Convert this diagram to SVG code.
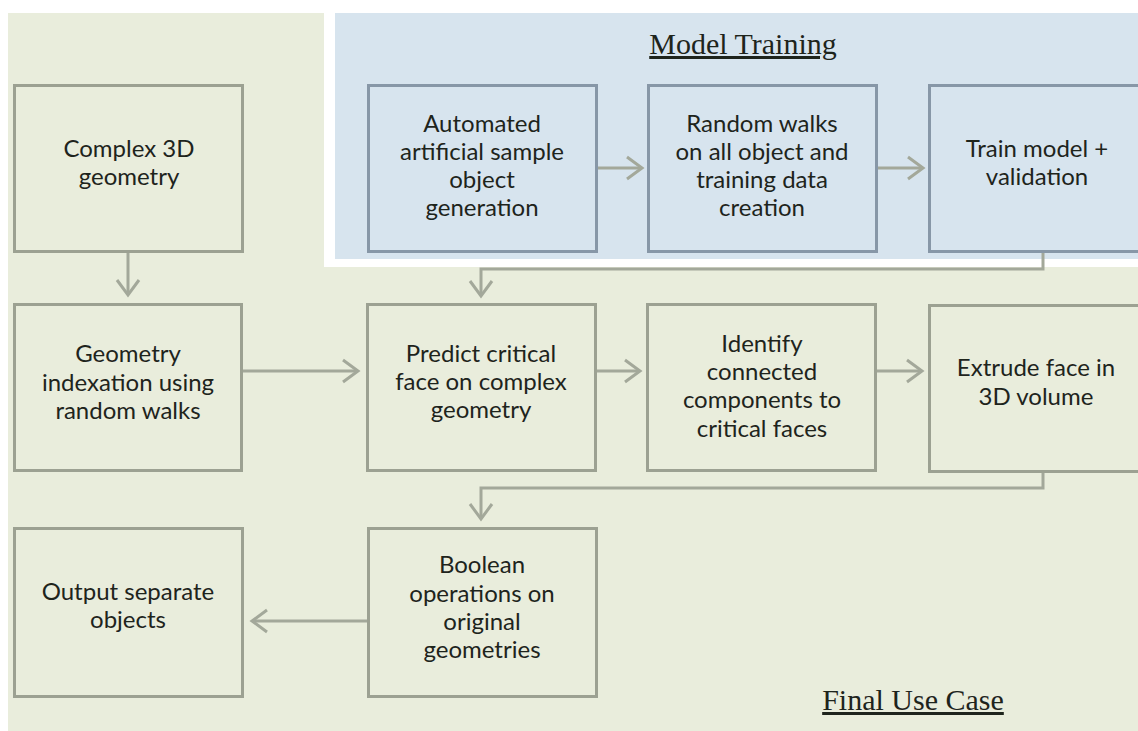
<svg xmlns="http://www.w3.org/2000/svg" width="1138" height="731" viewBox="0 0 1138 731">
<defs>
<style>
.bg-green{fill:#e9eddc}
.bg-blue{fill:#d7e4ee}
.box{fill:none;stroke:#9ca192;stroke-width:3}
.bbox{fill:none;stroke:#8797a7;stroke-width:3}
.lbl{font-family:Lato,"Liberation Sans",sans-serif;font-size:24px;fill:#1e241c;text-anchor:middle}
.ttl{font-family:"Liberation Serif",serif;font-size:30px;fill:#1e241c;text-anchor:middle;text-decoration:underline}
.conn{fill:none;stroke:#a3a89a;stroke-width:3}
</style>
<marker id="arr" markerUnits="userSpaceOnUse" markerWidth="40" markerHeight="40" viewBox="-20 -20 40 40" refX="0" refY="0" orient="auto" overflow="visible">
<path d="M -15 -11 L 0 0 L -15 11" fill="none" stroke="#a3a89a" stroke-width="3"/>
</marker>
</defs>
<rect x="0" y="0" width="1138" height="731" fill="#ffffff"/>
<rect class="bg-green" x="8" y="13" width="1130" height="718"/>
<rect x="324" y="0" width="814" height="267" fill="#ffffff"/>
<rect class="bg-blue" x="335" y="13" width="803" height="246"/>
<text class="ttl" x="743" y="54">Model Training</text>
<text class="ttl" x="913" y="710">Final Use Case</text>

<g id="connectors">
<path class="conn" d="M128 253 V295" marker-end="url(#arr)"/>
<path class="conn" d="M242 371 H358" marker-end="url(#arr)"/>
<path class="conn" d="M597 168 H642" marker-end="url(#arr)"/>
<path class="conn" d="M877 168 H923" marker-end="url(#arr)"/>
<path class="conn" d="M1043 253 V269 H481 V296" marker-end="url(#arr)"/>
<path class="conn" d="M596 371 H640" marker-end="url(#arr)"/>
<path class="conn" d="M876 371 H922" marker-end="url(#arr)"/>
<path class="conn" d="M1043 472 V488 H481 V519" marker-end="url(#arr)"/>
<path class="conn" d="M368 621 H252" marker-end="url(#arr)"/>
</g>

<g id="n-complex">
<rect class="box" x="14.5" y="85.5" width="228" height="166"/>
<text class="lbl" x="129"><tspan x="129" y="157">Complex 3D</tspan><tspan x="129" y="185">geometry</tspan></text>
</g>
<g id="n-automated">
<rect class="bbox" x="368.5" y="85.5" width="228" height="166"/>
<text class="lbl"><tspan x="482" y="132">Automated</tspan><tspan x="482" y="160">artificial sample</tspan><tspan x="482" y="188">object</tspan><tspan x="482" y="216">generation</tspan></text>
</g>
<g id="n-random">
<rect class="bbox" x="648.5" y="85.5" width="228" height="166"/>
<text class="lbl"><tspan x="762" y="132">Random walks</tspan><tspan x="762" y="160">on all object and</tspan><tspan x="762" y="188">training data</tspan><tspan x="762" y="216">creation</tspan></text>
</g>
<g id="n-train">
<rect class="bbox" x="929.5" y="85.5" width="228" height="166"/>
<text class="lbl"><tspan x="1037" y="157">Train model +</tspan><tspan x="1037" y="185">validation</tspan></text>
</g>
<g id="n-geometry">
<rect class="box" x="14.5" y="304.5" width="227" height="166"/>
<text class="lbl"><tspan x="128" y="362">Geometry</tspan><tspan x="128" y="391">indexation using</tspan><tspan x="128" y="419">random walks</tspan></text>
</g>
<g id="n-predict">
<rect class="box" x="367.5" y="304.5" width="228" height="166"/>
<text class="lbl"><tspan x="481" y="362">Predict critical</tspan><tspan x="481" y="390">face on complex</tspan><tspan x="481" y="418">geometry</tspan></text>
</g>
<g id="n-identify">
<rect class="box" x="647.5" y="304.5" width="228" height="166"/>
<text class="lbl"><tspan x="762" y="352">Identify</tspan><tspan x="762" y="380">connected</tspan><tspan x="762" y="408">components to</tspan><tspan x="762" y="437">critical faces</tspan></text>
</g>
<g id="n-extrude">
<rect class="box" x="929.5" y="305.5" width="228" height="166"/>
<text class="lbl"><tspan x="1036" y="376">Extrude face in</tspan><tspan x="1036" y="405">3D volume</tspan></text>
</g>
<g id="n-boolean">
<rect class="box" x="368.5" y="528.5" width="228" height="168"/>
<text class="lbl"><tspan x="482" y="573">Boolean</tspan><tspan x="482" y="602">operations on</tspan><tspan x="482" y="630">original</tspan><tspan x="482" y="658">geometries</tspan></text>
</g>
<g id="n-output">
<rect class="box" x="14.5" y="528.5" width="228" height="168"/>
<text class="lbl"><tspan x="128" y="600">Output separate</tspan><tspan x="128" y="628">objects</tspan></text>
</g>
</svg>
